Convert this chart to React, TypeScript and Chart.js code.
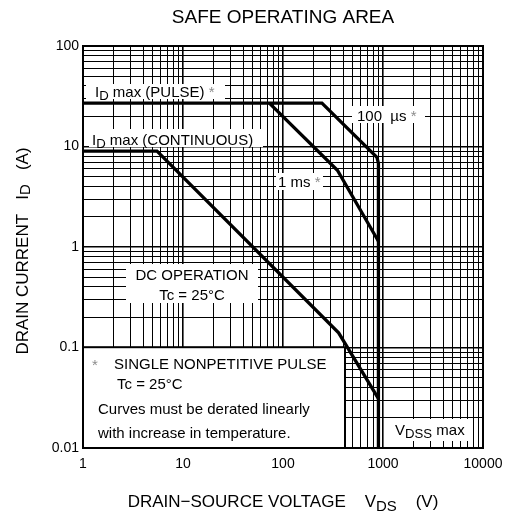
import React, { useEffect, useRef } from 'react';
import { Chart, registerables } from 'chart.js';

Chart.register(...registerables);

// ---- data ----
const xTickLabels = ['1', '10', '100', '1000', '10000'];
const yTickLabels = ['0.01', '0.1', '1', '10', '100'];

// 100 µs pulse limit (ID max pulse, then down to VDSS max)
const us100Voltage = [1, 245, 870, 900, 900];
const us100Current = [27, 27, 7.8, 6.8, 0.01];
// 1 ms pulse limit
const ms1Voltage = [73, 350, 900];
const ms1Current = [27, 5.8, 1.14];
// DC operation
const dcVoltage = [1, 5.5, 360, 900];
const dcCurrent = [9, 9, 0.14, 0.031];

const FONT = '"Liberation Sans", Arial, Helvetica, sans-serif';

type Piece = { t: string; sub?: boolean; gray?: boolean };

function decadeTicks(minExp: number, maxExp: number): number[] {
  const out: number[] = [];
  for (let e = minExp; e < maxExp; e++) {
    for (let m = 1; m <= 9; m++) out.push(Number((m * Math.pow(10, e)).toPrecision(6)));
  }
  out.push(Math.pow(10, maxExp));
  return out;
}

function isDecade(v: number): boolean {
  const l = Math.log10(v);
  return Math.abs(l - Math.round(l)) < 1e-6;
}

function labelFor(labels: string[], v: number): string {
  const hit = labels.find((s) => Math.abs(Number(s) / v - 1) < 1e-6);
  return hit ?? '';
}

function drawRich(
  ctx: CanvasRenderingContext2D,
  pieces: Piece[],
  x: number,
  y: number,
  align: 'left' | 'center' | 'right',
  size: number,
  subShift = 0.2
) {
  ctx.save();
  ctx.textBaseline = 'alphabetic';
  ctx.textAlign = 'left';
  const widths = pieces.map((p) => {
    ctx.font = `${p.sub ? size * 0.88 : size}px ${FONT}`;
    return ctx.measureText(p.t).width;
  });
  const total = widths.reduce((a, b) => a + b, 0);
  let cx = align === 'center' ? x - total / 2 : align === 'right' ? x - total : x;
  pieces.forEach((p, i) => {
    ctx.font = `${p.sub ? size * 0.88 : size}px ${FONT}`;
    ctx.fillStyle = p.gray ? '#8c8c8c' : '#000';
    ctx.fillText(p.t, cx, y + (p.sub ? size * subShift : 0));
    cx += widths[i];
  });
  ctx.restore();
}

// label boxes, offsets in px from the plot area's top-left corner
const boxes = [
  { x0: 3, x1: 142, y0: 38, y1: 53, border: false },
  { x0: 6, x1: 180, y0: 83, y1: 101, border: false },
  { x0: 269, x1: 342, y0: 60, y1: 77, border: false },
  { x0: 193, x1: 240, y0: 127, y1: 144, border: false },
  { x0: 43, x1: 175, y0: 218, y1: 257, border: false },
  { x0: 0, x1: 262, y0: 301.2, y1: 402, border: true },
  { x0: 308, x1: 389, y0: 373, y1: 395, border: false },
];

const texts: { x: number; y: number; align: 'left' | 'center'; pieces: Piece[] }[] = [
  { x: 12, y: 50.7, align: 'left', pieces: [{ t: 'I' }, { t: 'D', sub: true }, { t: ' max (PULSE) ' }, { t: '*', gray: true }] },
  { x: 9, y: 99, align: 'left', pieces: [{ t: 'I' }, { t: 'D', sub: true }, { t: ' max (CONTINUOUS)' }] },
  { x: 274, y: 74.7, align: 'left', pieces: [{ t: '100  µs ' }, { t: '*', gray: true }] },
  { x: 195, y: 140.7, align: 'left', pieces: [{ t: '1 ms ' }, { t: '*', gray: true }] },
  { x: 109, y: 234, align: 'center', pieces: [{ t: 'DC OPERATION' }] },
  { x: 109, y: 254, align: 'center', pieces: [{ t: 'Tc = 25°C' }] },
  { x: 9, y: 324, align: 'left', pieces: [{ t: '*', gray: true }] },
  { x: 31, y: 323.3, align: 'left', pieces: [{ t: 'SINGLE NONPETITIVE PULSE' }] },
  { x: 34, y: 343.3, align: 'left', pieces: [{ t: 'Tc = 25°C' }] },
  { x: 15, y: 368, align: 'left', pieces: [{ t: 'Curves must be derated linearly' }] },
  { x: 15, y: 392.3, align: 'left', pieces: [{ t: 'with increase in temperature.' }] },
  { x: 312, y: 389, align: 'left', pieces: [{ t: 'V' }, { t: 'DSS', sub: true }, { t: ' max' }] },
];

const annotationPlugin = {
  id: 'soaAnnotations',
  beforeDatasetsDraw(chart: any) {
    const { ctx, chartArea } = chart;
    ctx.save();
    for (const b of boxes) {
      ctx.fillStyle = '#fff';
      ctx.fillRect(chartArea.left + b.x0, chartArea.top + b.y0, b.x1 - b.x0, b.y1 - b.y0);
      if (b.border) {
        ctx.strokeStyle = '#000';
        ctx.lineWidth = 2;
        ctx.strokeRect(chartArea.left + b.x0, chartArea.top + b.y0, b.x1 - b.x0, b.y1 - b.y0);
      }
    }
    ctx.restore();
  },
  afterDatasetsDraw(chart: any) {
    const { ctx, chartArea } = chart;
    for (const t of texts) {
      drawRich(ctx, t.pieces, chartArea.left + t.x, chartArea.top + t.y, t.align, 15);
    }
    // plot frame
    ctx.save();
    ctx.strokeStyle = '#000';
    ctx.lineWidth = 2;
    ctx.strokeRect(chartArea.left, chartArea.top, chartArea.right - chartArea.left, chartArea.bottom - chartArea.top);
    ctx.restore();

    const cxPlot = (chartArea.left + chartArea.right) / 2;
    const cyPlot = (chartArea.top + chartArea.bottom) / 2;
    // title
    drawRich(ctx, [{ t: 'SAFE OPERATING AREA' }], cxPlot, 22.7, 'center', 19);
    // x axis title
    drawRich(
      ctx,
      [{ t: 'DRAIN\u2212SOURCE VOLTAGE    V' }, { t: 'DS', sub: true }, { t: '    (V)' }],
      cxPlot,
      507,
      'center',
      17,
      0.25
    );
    // y axis title
    ctx.save();
    ctx.translate(28, cyPlot + 4);
    ctx.rotate(-Math.PI / 2);
    drawRich(ctx, [{ t: 'DRAIN CURRENT   I' }, { t: 'D', sub: true }, { t: '   (A)' }], 0, 0, 'center', 17, 0.12);
    ctx.restore();
  },
};

function gridWidth(c: any): number {
  return c.tick && isDecade(c.tick.value) ? 1.6 : 1;
}

export default function App() {
  const ref = useRef<HTMLCanvasElement | null>(null);

  useEffect(() => {
    if (!ref.current) return;
    const mk = (xs: number[], ys: number[]) => xs.map((x, i) => ({ x, y: ys[i] }));
    const lineStyle = {
      borderColor: '#000',
      borderWidth: 3.3,
      pointRadius: 0,
      tension: 0,
      fill: false,
      showLine: true,
    };
    const chart = new Chart(ref.current, {
      type: 'line',
      data: {
        datasets: [
          { label: '100 µs', data: mk(us100Voltage, us100Current), ...lineStyle },
          { label: '1 ms', data: mk(ms1Voltage, ms1Current), ...lineStyle },
          { label: 'DC', data: mk(dcVoltage, dcCurrent), ...lineStyle },
        ],
      },
      options: {
        animation: false,
        responsive: false,
        devicePixelRatio: 1,
        parsing: true,
        layout: { padding: { left: 0, right: 22, top: 46, bottom: 0 } },
        plugins: {
          legend: { display: false },
          tooltip: { enabled: false },
          title: { display: false },
        },
        events: [],
        scales: {
          x: {
            type: 'logarithmic',
            min: 1,
            max: 10000,
            afterBuildTicks: (scale: any) => {
              scale.ticks = decadeTicks(0, 4).map((v) => ({ value: v }));
            },
            afterFit: (scale: any) => {
              scale.height = 69;
              scale.paddingLeft = 0;
              scale.paddingRight = 0;
            },
            grid: { color: '#000', lineWidth: gridWidth, drawTicks: false },
            border: { display: false },
            ticks: {
              autoSkip: false,
              maxRotation: 0,
              minRotation: 0,
              padding: 8,
              color: '#000',
              font: { family: FONT, size: 14 },
              callback: (v: any) => labelFor(xTickLabels, Number(v)),
            },
          },
          y: {
            type: 'logarithmic',
            min: 0.01,
            max: 100,
            afterBuildTicks: (scale: any) => {
              scale.ticks = decadeTicks(-2, 2).map((v) => ({ value: v }));
            },
            afterFit: (scale: any) => {
              scale.width = 83;
              scale.paddingTop = 0;
              scale.paddingBottom = 0;
            },
            grid: { color: '#000', lineWidth: gridWidth, drawTicks: false },
            border: { display: false },
            ticks: {
              autoSkip: false,
              padding: 4,
              color: '#000',
              font: { family: FONT, size: 14 },
              callback: (v: any) => labelFor(yTickLabels, Number(v)),
            },
          },
        },
      } as any,
      plugins: [annotationPlugin],
    });
    return () => chart.destroy();
  }, []);

  return (
    <div style={{ position: 'absolute', left: 0, top: 0, width: 505, height: 517, background: '#fff' }}>
      <canvas ref={ref} width={505} height={517} style={{ width: 505, height: 517, display: 'block' }} />
    </div>
  );
}
